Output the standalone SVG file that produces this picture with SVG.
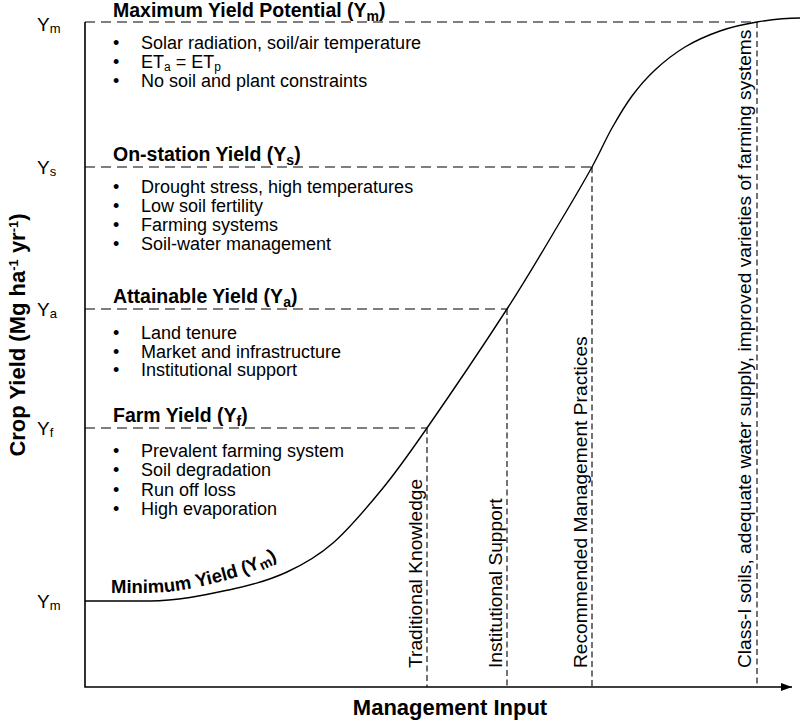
<svg xmlns="http://www.w3.org/2000/svg" width="804" height="721" viewBox="0 0 804 721">
<defs>
<marker id="arrow" markerWidth="12" markerHeight="10" refX="11" refY="5" orient="auto" markerUnits="userSpaceOnUse"><path d="M0,1 L11,5 L0,9 Z" fill="#000"/></marker>
<path id="minpath" d="M111,593 L145,593 C175,593 205,586 230,579 C252,573 270,564 290,552 C300,546 310,540 320,533"/>
</defs>
<style>
text{font-family:"Liberation Sans",Arial,Helvetica,sans-serif;fill:#000}
.h{font-size:19.5px;font-weight:bold}
.b{font-size:18px}
.t{font-size:19px}
.v{font-size:19.2px}
.ax{font-size:22px;font-weight:bold}
.axis{stroke:#000;stroke-width:1.6;fill:none}
.hd{stroke:#000;stroke-width:1.2;stroke-dasharray:10 6;fill:none}
.vd{stroke:#000;stroke-width:1.1;stroke-dasharray:6 3.5;fill:none}
.curve{stroke:#000;stroke-width:1.4;fill:none}
</style>
<rect width="804" height="721" fill="#fff"/>

<g id="connectors">
<path class="hd" d="M85,22 H757"/>
<path class="hd" d="M85,167 H592"/>
<path class="hd" d="M85,309 H507"/>
<path class="hd" d="M85,428 H427"/>
<path class="vd" d="M427,428 V687"/>
<path class="vd" d="M507,309 V687"/>
<path class="vd" d="M592,167 V687"/>
<path class="vd" d="M757,22 V687"/>
<path id="yield-curve" class="curve" d="M85,601 L150,601 C180,601 210.2,593.8 233,589 C255.8,584.2 270.3,579.7 287,572 C303.7,564.3 317,557 333,543 C349,529 367.3,507.2 383,488 C398.7,468.8 406.3,457.8 427,428 C447.7,398.2 484.8,343.3 507,309 C529.2,274.7 545.8,245.7 560,222 C574.2,198.3 583.3,182.7 592,167 C600.7,151.3 605.3,139.8 612,128 C618.7,116.2 624.8,105.7 632,96 C639.2,86.3 646.2,78.2 655,70 C663.8,61.8 674.2,53.5 685,47 C695.8,40.5 708,35.2 720,31 C732,26.8 743.7,24.2 757,22 C770.3,19.8 790,18 800,18"/>
<path class="axis" d="M85,22 V687 H792" marker-end="url(#arrow)"/>
</g>

<g id="axis-labels">
<text class="ax" transform="translate(25,335) rotate(-90)" text-anchor="middle">Crop Yield (Mg ha<tspan dy="-7" font-size="13">-1</tspan><tspan dy="7"> yr</tspan><tspan dy="-7" font-size="13">-1</tspan><tspan dy="7">)</tspan></text>
<text class="ax" x="450" y="715" text-anchor="middle">Management Input</text>
</g>

<g id="tick-labels">
<text class="t" x="37" y="31">Y<tspan dy="2" font-size="13">m</tspan></text>
<text class="t" x="37" y="174">Y<tspan dy="2" font-size="13">s</tspan></text>
<text class="t" x="37" y="316">Y<tspan dy="2" font-size="13">a</tspan></text>
<text class="t" x="37" y="435">Y<tspan dy="2" font-size="13">f</tspan></text>
<text class="t" x="37" y="608">Y<tspan dy="2" font-size="13">m</tspan></text>
</g>

<g id="max-yield">
<text class="h" x="113" y="17">Maximum Yield Potential (Y<tspan dy="4" font-size="14">m</tspan><tspan dy="-4">)</tspan></text>
<text class="b" x="113" y="49">•<tspan x="141">Solar radiation, soil/air temperature</tspan></text>
<text class="b" x="113" y="68">•<tspan x="141">ET<tspan dy="3" font-size="12">a</tspan><tspan dy="-3"> = ET</tspan><tspan dy="3" font-size="12">p</tspan></tspan></text>
<text class="b" x="113" y="87">•<tspan x="141">No soil and plant constraints</tspan></text>
</g>

<g id="on-station-yield">
<text class="h" x="113" y="161">On-station Yield (Y<tspan dy="4" font-size="14">s</tspan><tspan dy="-4">)</tspan></text>
<text class="b" x="113" y="193">•<tspan x="141">Drought stress, high temperatures</tspan></text>
<text class="b" x="113" y="212">•<tspan x="141">Low soil fertility</tspan></text>
<text class="b" x="113" y="231">•<tspan x="141">Farming systems</tspan></text>
<text class="b" x="113" y="250">•<tspan x="141">Soil-water management</tspan></text>
</g>

<g id="attainable-yield">
<text class="h" x="113" y="303">Attainable Yield (Y<tspan dy="4" font-size="14">a</tspan><tspan dy="-4">)</tspan></text>
<text class="b" x="113" y="339">•<tspan x="141">Land tenure</tspan></text>
<text class="b" x="113" y="358">•<tspan x="141">Market and infrastructure</tspan></text>
<text class="b" x="113" y="376">•<tspan x="141">Institutional support</tspan></text>
</g>

<g id="farm-yield">
<text class="h" x="113" y="422">Farm Yield (Y<tspan dy="4" font-size="14">f</tspan><tspan dy="-4">)</tspan></text>
<text class="b" x="113" y="457">•<tspan x="141">Prevalent farming system</tspan></text>
<text class="b" x="113" y="476">•<tspan x="141">Soil degradation</tspan></text>
<text class="b" x="113" y="496">•<tspan x="141">Run off loss</tspan></text>
<text class="b" x="113" y="515">•<tspan x="141">High evaporation</tspan></text>
</g>

<g id="minimum-yield">
<text font-size="18.5px" font-weight="bold"><textPath href="#minpath">Minimum Yield (Y<tspan dy="3" font-size="14">m</tspan><tspan dy="-3">)</tspan></textPath></text>
</g>

<g id="management-levels">
<text class="v" transform="translate(422,668) rotate(-90)">Traditional Knowledge</text>
<text class="v" transform="translate(502,668) rotate(-90)">Institutional Support</text>
<text class="v" transform="translate(587,668) rotate(-90)">Recommended Management Practices</text>
<text class="v" transform="translate(751,668) rotate(-90)">Class-I soils, adequate water supply, improved varieties of farming systems</text>
</g>
</svg>
